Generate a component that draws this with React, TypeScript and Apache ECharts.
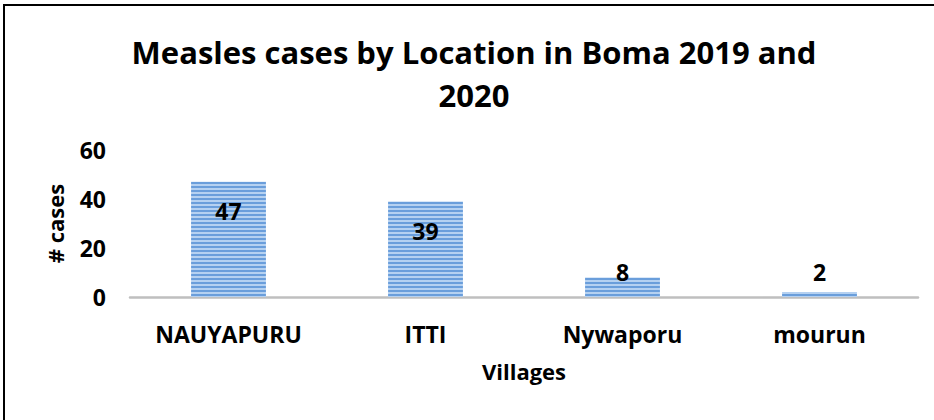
import React, { useEffect, useRef } from "react";
import * as echarts from "echarts";

const categories = ["NAUYAPURU", "ITTI", "Nywaporu", "mourun"];
const cases = [47, 39, 8, 2];
const yTicks = { min: 0, max: 60, interval: 20 };

function stripes() {
  const stops: { offset: number; color: string }[] = [];
  const H = 420;
  const light = "#b5d1f1";
  const dark = "#6a9edb";
  for (let y = 0; y < H; y += 4) {
    stops.push({ offset: y / H, color: light });
    stops.push({ offset: (y + 2.4) / H, color: light });
    stops.push({ offset: (y + 2.4) / H, color: dark });
    stops.push({ offset: (y + 4) / H, color: dark });
  }
  return new echarts.graphic.LinearGradient(0, 0, 0, H, stops, true);
}

export default function App() {
  const ref = useRef<HTMLDivElement>(null);
  useEffect(() => {
    if (!ref.current) return;
    const chart = echarts.init(ref.current, undefined, { renderer: "svg" });
    const font = "'Open Sans', sans-serif";
    const labelCfg = (v: number) => {
      if (v >= 20) return { position: "insideTop", distance: 18 };
      if (v >= 5) return { position: "top", distance: -6 };
      return { position: "top", distance: 9 };
    };
    chart.setOption({
      animation: false,
      backgroundColor: "#ffffff",
      textStyle: { fontFamily: font },
      title: {
        text: "Measles cases by Location in Boma 2019 and\n2020",
        left: 469,
        textAlign: "center",
        top: 25,
        textStyle: {
          fontFamily: font,
          fontSize: 31,
          fontWeight: "bold",
          color: "#000000",
          lineHeight: 43,
        },
      },
      grid: { left: 130, right: 16, top: 150, bottom: 123, containLabel: false },
      xAxis: {
        type: "category",
        data: categories,
        name: "Villages",
        nameLocation: "middle",
        nameGap: 63,
        nameTextStyle: { fontFamily: font, fontSize: 22, fontWeight: "bold", color: "#000" },
        axisLine: { show: true, lineStyle: { color: "#bfbfbf", width: 2.5 } },
        axisTick: { show: false },
        axisLabel: {
          margin: 25,
          fontFamily: font,
          fontSize: 23,
          fontWeight: "bold",
          color: "#000",
        },
      },
      yAxis: {
        type: "value",
        min: yTicks.min,
        max: yTicks.max,
        interval: yTicks.interval,
        name: "# cases",
        nameLocation: "middle",
        nameGap: 64,
        nameRotate: 90,
        nameTextStyle: { fontFamily: font, fontSize: 22, fontWeight: "bold", color: "#000" },
        axisLine: { show: false },
        axisTick: { show: false },
        splitLine: { show: false },
        axisLabel: {
          margin: 24,
          fontFamily: font,
          fontSize: 23,
          fontWeight: "bold",
          color: "#000",
        },
      },
      series: [
        {
          type: "bar",
          barWidth: "38%",
          data: cases.map((v) => ({ value: v, label: labelCfg(v) })),
          itemStyle: { color: stripes() },
          label: {
            show: true,
            fontFamily: font,
            fontSize: 23,
            fontWeight: "bold",
            color: "#000",
          },
        },
      ],
      graphic: [
        { type: "line", shape: { x1: 3, y1: 5, x2: 934, y2: 5 }, style: { stroke: "#000", lineWidth: 2 } },
        { type: "line", shape: { x1: 4, y1: 5, x2: 4, y2: 420 }, style: { stroke: "#000", lineWidth: 2 } },
      ],
    });
    return () => chart.dispose();
  }, []);
  return (
    <div
      ref={ref}
      style={{ position: "fixed", left: 0, top: 0, width: 934, height: 420 }}
    />
  );
}
